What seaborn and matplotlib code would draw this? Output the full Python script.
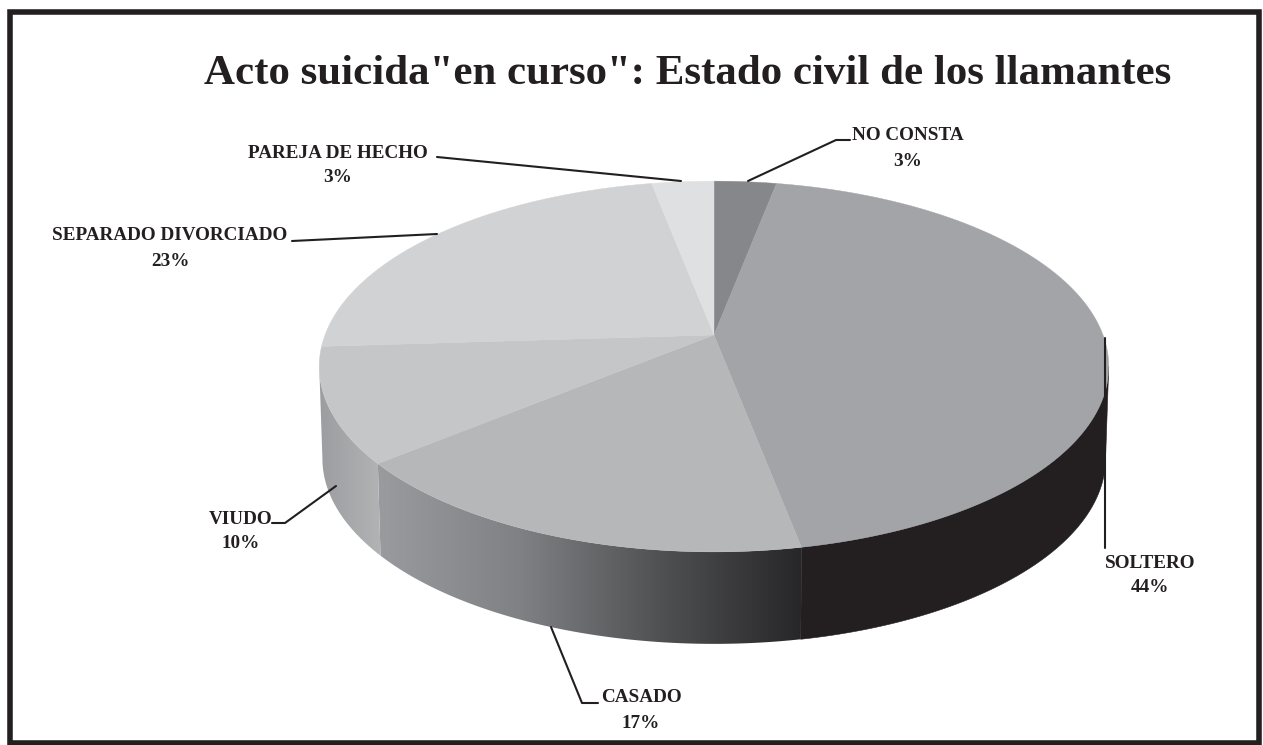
import numpy as np
import matplotlib
matplotlib.use("Agg")
import matplotlib.pyplot as plt
from matplotlib.patches import Rectangle, Polygon
from matplotlib.colors import to_rgb
import seaborn as sns

# Marital status of callers, clockwise from twelve o'clock
categories = ["NO CONSTA", "SOLTERO", "CASADO", "VIUDO", "SEPARADO DIVORCIADO", "PAREJA DE HECHO"]
shares = [3, 44, 17, 10, 23, 3]
title = 'Acto suicida"en curso": Estado civil de los llamantes'

top_colors = ["#85878a", "#a3a4a7", "#b6b7b9", "#c5c6c8", "#d1d2d4", "#dfe0e2"]
wall_ramps = [
    ["#85878a", "#85878a"],
    ["#231f20", "#231f20"],
    ["#272628", "#505153", "#808184", "#9a9b9e"],
    ["#b2b3b5", "#9c9da0"],
    ["#9c9da0", "#9c9da0"],
    ["#9c9da0", "#9c9da0"],
]

sns.set_theme(style="white")
plt.rcParams["font.family"] = ["Liberation Serif", "DejaVu Serif"]

W, H = 1263, 745
fig = plt.figure(figsize=(W / 100, H / 100), dpi=100, facecolor="white")
ax = fig.add_axes([0, 0, 1, 1])
ax.set_xlim(0, W)
ax.set_ylim(H, 0)
ax.set_autoscale_on(False)
ax.axis("off")

# Perspective disc: apex position, radii and tilt of the pie
CX, CY, RX, RY, TILT = 714.0, 335.0, 389.0, 180.0, 0.17
DEPTH, WALL_SCALE = 92.0, 0.992

# The wall is visible only between the two horizontal extremes of the rim
VISIBLE_FROM = np.arccos(-TILT) / (2 * np.pi)
VISIBLE_TO = 1 - VISIBLE_FROM


def project(frac):
    theta = 2 * np.pi * np.asarray(frac)
    u, v = np.sin(theta), np.cos(theta)
    d = 1 + TILT * v
    return CX + RX * u / d, CY - RY * v / d


def lower_rim(x, y):
    return CX + (x - CX) * WALL_SCALE, y + DEPTH


edges = np.concatenate([[0], np.cumsum(shares)]) / np.sum(shares)

# Side wall: flat slices are plain polygons, shaded slices get a clipped ramp
for i, ramp in enumerate(wall_ramps):
    start, stop = max(edges[i], VISIBLE_FROM), min(edges[i + 1], VISIBLE_TO)
    if start >= stop:
        continue
    fr = np.linspace(start, stop, 200)
    xs, ys = project(fr)
    xb, yb = lower_rim(xs, ys)
    outline = np.column_stack([np.r_[xs, xb[::-1]], np.r_[ys, yb[::-1]]])
    if ramp[0] == ramp[-1]:
        ax.add_patch(Polygon(outline, closed=True, fc=ramp[0], ec=ramp[0], lw=0.4, zorder=2))
        continue
    shades = np.array([to_rgb(c) for c in sns.blend_palette(ramp, n_colors=256)])[::-1]
    clip = Polygon(outline, closed=True, transform=ax.transData)
    img = ax.imshow(shades[np.newaxis, :, :], aspect="auto", interpolation="bilinear",
                    extent=(outline[:, 0].min(), outline[:, 0].max(),
                            outline[:, 1].max(), outline[:, 1].min()),
                    zorder=2)
    img.set_clip_path(clip)

# Top face
for i, col in enumerate(top_colors):
    fr = np.linspace(edges[i], edges[i + 1], 200)
    xs, ys = project(fr)
    ax.fill(np.r_[CX, xs], np.r_[CY, ys], color=col, lw=0.3, zorder=3)

# Leader lines
leaders = [
    ([748, 836, 850], [181, 140, 140]),
    ([1105, 1105], [338, 548]),
    ([551, 582, 598], [627, 703, 703]),
    ([336, 285, 272], [486, 523, 523]),
    ([292, 437], [241, 234]),
    ([437, 681], [157, 181]),
]
for lx, ly in leaders:
    ax.plot(lx, ly, color="#231f20", lw=1.5, zorder=4, solid_joinstyle="round")

# Slice labels with their percentages
label_spots = [(908, 136), (1150, 563), (641, 698), (241, 519), (170, 236), (338, 153)]
for name, share, (tx, ty) in zip(categories, shares, label_spots):
    ax.text(tx, ty, name, ha="center", va="center", fontsize=13.8,
            fontweight="bold", color="#231f20", zorder=5)
    ax.text(tx, ty + 25, f"{share}%", ha="center", va="center", fontsize=13.8,
            fontweight="bold", color="#231f20", zorder=5)

ax.text(688, 74, title, ha="center", va="center", fontsize=30.9,
        fontweight="bold", color="#231f20", zorder=5)

# Outer frame
ax.add_patch(Rectangle((10, 12), 1249, 731, fill=False, ec="#231f20", lw=4.0,
                       zorder=6, clip_on=False))

fig.savefig("out.png", dpi=100, facecolor="white")
